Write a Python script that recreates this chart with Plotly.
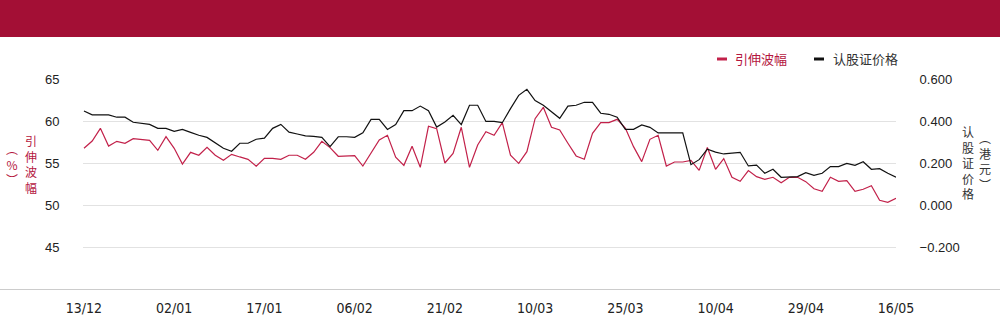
import plotly.graph_objects as go

# Trading-day index and date tick labels (every 11th session)
days = list(range(100))
tick_pos = [0, 11, 22, 33, 44, 55, 66, 77, 88, 99]
tick_labels = ["13/12", "02/01", "17/01", "06/02", "21/02",
               "10/03", "25/03", "10/04", "29/04", "16/05"]

# Implied volatility (%)
implied_vol = [
    56.75, 57.62, 59.13, 57.02, 57.58, 57.35, 57.90, 57.82, 57.70, 56.51,
    58.14, 56.75, 54.88, 56.27, 55.92, 56.87, 55.92, 55.32, 56.03, 55.72,
    55.44, 54.61, 55.56, 55.56, 55.44, 55.92, 55.92, 55.44, 56.27, 57.58,
    56.83, 55.80, 55.84, 55.87, 54.64, 56.23, 57.74, 58.30, 55.68, 54.72,
    56.99, 54.49, 59.37, 59.09, 55.00, 56.15, 59.25, 54.49, 57.14, 58.73,
    58.30, 59.80, 55.92, 54.96, 56.35, 60.28, 61.63, 59.25, 58.93, 57.35,
    55.84, 55.44, 58.54, 59.80, 59.80, 60.20, 59.17, 56.95, 55.16, 57.82,
    58.30, 54.64, 55.12, 55.12, 55.30, 54.12, 56.85, 54.25, 55.52, 53.30,
    52.82, 54.09, 53.37, 53.06, 53.30, 52.66, 53.30, 53.30, 52.78, 51.94,
    51.63, 53.30, 52.82, 52.90, 51.63, 51.87, 52.30, 50.56, 50.32, 50.80,
]

# Warrant price (HKD)
warrant_price = [
    0.448, 0.429, 0.429, 0.429, 0.418, 0.418, 0.394, 0.389, 0.384, 0.365,
    0.365, 0.351, 0.360, 0.346, 0.332, 0.322, 0.298, 0.270, 0.256, 0.294,
    0.294, 0.313, 0.318, 0.365, 0.384, 0.347, 0.338, 0.329, 0.327, 0.322,
    0.278, 0.325, 0.325, 0.322, 0.344, 0.408, 0.408, 0.360, 0.383, 0.449,
    0.449, 0.471, 0.449, 0.371, 0.395, 0.427, 0.383, 0.475, 0.475, 0.398,
    0.398, 0.392, 0.459, 0.522, 0.551, 0.497, 0.475, 0.444, 0.413, 0.471,
    0.475, 0.489, 0.489, 0.437, 0.432, 0.418, 0.360, 0.360, 0.381, 0.370,
    0.343, 0.343, 0.343, 0.343, 0.192, 0.216, 0.266, 0.252, 0.243, 0.246,
    0.251, 0.186, 0.190, 0.151, 0.170, 0.132, 0.135, 0.135, 0.154, 0.141,
    0.151, 0.183, 0.183, 0.198, 0.189, 0.206, 0.170, 0.173, 0.151, 0.132,
]

series_names = ["引伸波幅", "认股证价格"]
left_title = "引伸波幅"
left_unit = "%"
right_title = "认股证价格"
right_unit = "港元"

RED = "#C2214A"
RED_TEXT = "#B5173F"
DARK = "#111111"
BAND = "#A30F35"

W, H = 1000, 324
ML, MR, MT, MB = 83, 104, 79, 35
PW, PH = W - ML - MR, H - MT - MB


def fx(px):
    return (px - ML) / PW


def fy(py):
    return (H - MB - py) / PH


CJK = "Noto Sans CJK SC, Noto Sans, sans-serif"
NUM = "Liberation Sans, Arial, sans-serif"

fig = go.Figure()
fig.add_trace(go.Scatter(x=days, y=implied_vol, name=series_names[0], mode="lines",
                         line=dict(color=RED, width=1.2), yaxis="y"))
fig.add_trace(go.Scatter(x=days, y=warrant_price, name=series_names[1], mode="lines",
                         line=dict(color=DARK, width=1.2), yaxis="y2"))

shapes = [
    # header band
    dict(type="rect", xref="paper", yref="paper", x0=fx(0), x1=fx(W), y0=fy(37), y1=fy(0),
         fillcolor=BAND, line=dict(width=0), layer="below"),
    # full-width baseline
    dict(type="line", xref="paper", yref="paper", x0=fx(0), x1=fx(W), y0=fy(289.5), y1=fy(289.5),
         line=dict(color="#cccccc", width=1)),
    # legend swatches
    dict(type="line", xref="paper", yref="paper", x0=fx(717), x1=fx(727), y0=fy(59), y1=fy(59),
         line=dict(color=RED, width=3)),
    dict(type="line", xref="paper", yref="paper", x0=fx(814), x1=fx(824), y0=fy(59), y1=fy(59),
         line=dict(color=DARK, width=3)),
]


def label(text, px, py, color, size=13, anchor="left"):
    return dict(xref="paper", yref="paper", x=fx(px), y=fy(py), xanchor=anchor,
                yanchor="middle", text=text, showarrow=False, borderpad=0,
                font=dict(family=CJK, size=size, color=color))


def stacked(chars):
    return "<br>".join(chars)


annotations = [
    label(series_names[0], 734, 59, RED_TEXT),
    label(series_names[1], 832, 59, "#333333"),
    # axis titles, written top to bottom
    label(stacked(left_title), 31, 164, RED_TEXT, size=12, anchor="center"),
    label(stacked("\ufe35" + left_unit + "\ufe36"), 12, 164, RED_TEXT, size=12, anchor="center"),
    label(stacked(right_title), 968, 162, "#333333", size=12, anchor="center"),
    label(stacked("\ufe35" + right_unit + "\ufe36"), 985, 161, "#333333", size=12, anchor="center"),
]

fig.update_layout(
    width=W, height=H,
    margin=dict(l=ML, r=MR, t=MT, b=MB, pad=0),
    paper_bgcolor="white", plot_bgcolor="white",
    showlegend=False,
    xaxis=dict(range=[-0.12, 99.0], tickmode="array", tickvals=tick_pos, ticktext=tick_labels,
               showgrid=False, zeroline=False, showline=False, automargin=False,
               ticks="outside", ticklen=6, tickcolor="rgba(0,0,0,0)",
               tickfont=dict(family="Liberation Sans Narrow, DejaVu Sans Condensed, sans-serif",
                             size=14, color="#222222")),
    yaxis=dict(range=[40, 65], tickmode="array", tickvals=[45, 50, 55, 60, 65],
               showgrid=True, gridcolor="#e2e2e2", gridwidth=1, zeroline=False, showline=False,
               automargin=False,
               ticks="outside", ticklen=20, tickcolor="rgba(0,0,0,0)",
               tickfont=dict(family=NUM, size=13, color="#222222")),
    yaxis2=dict(range=[-0.4, 0.6], overlaying="y", side="right", tickmode="array",
                tickvals=[-0.2, 0.0, 0.2, 0.4, 0.6], tickformat=".3f",
                showgrid=False, zeroline=False, showline=False, automargin=False,
                ticks="outside", ticklen=20, tickcolor="rgba(0,0,0,0)",
                tickfont=dict(family=NUM, size=13, color="#222222")),
    shapes=shapes,
    annotations=annotations,
)

fig.write_html("out.html")
